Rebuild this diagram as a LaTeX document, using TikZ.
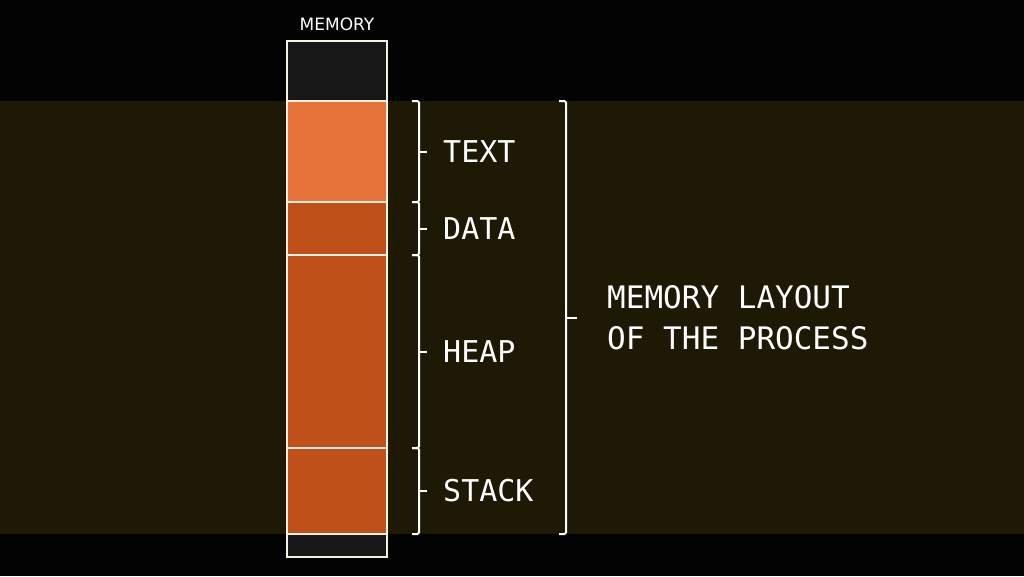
\documentclass[tikz,border=0pt]{standalone}
\usepackage{fontspec}
\usepackage{tikz}
\usetikzlibrary{positioning,calc}
\newfontfamily\monofont{DejaVu Sans Mono}
\newfontfamily\labelfont{DejaVu Sans}
\definecolor{bgblack}{HTML}{030303}
\definecolor{band}{HTML}{1E1904}
\definecolor{memdark}{HTML}{171717}
\definecolor{textseg}{HTML}{E8733A}
\definecolor{restseg}{HTML}{C0501A}
\definecolor{edge}{HTML}{F4F0E4}
\tikzset{x=1pt,y=-1pt,
node distance=0pt,
seg/.style={rectangle,draw=edge,line width=1.2pt,minimum width=100pt,outer sep=0pt,inner sep=0pt},
brk/.style={draw=white,line width=2pt,rounded corners=1.5pt},
lbl/.style={text=white,font=\monofont\fontsize{30}{41}\selectfont,inner sep=0pt,anchor=west},
}
\begin{document}
\begin{tikzpicture}
	\useasboundingbox[fill=bgblack] (0,0) rectangle (1024,576);
	\fill[band] (0,101) rectangle (1024,534);

	\node[seg,fill=memdark,minimum height=60pt] (top) at (337,71) {};
	\node[seg,fill=textseg,minimum height=101pt,below=of top] (text) {};
	\node[seg,fill=restseg,minimum height=53pt,below=of text] (data) {};
	\node[seg,fill=restseg,minimum height=193pt,below=of data] (heap) {};
	\node[seg,fill=restseg,minimum height=86pt,below=of heap] (stack) {};
	\node[seg,fill=memdark,minimum height=23pt,below=of stack] (bottom) {};
	\node[text=white,font=\labelfont\fontsize{17}{20}\selectfont,inner sep=0pt,above=10pt of top] (memlbl) {MEMORY};

	\foreach \a/\t in {text/TEXT,data/DATA,heap/HEAP,stack/STACK}{
		\draw[brk] ($(\a.north east)+(25,0)$) -| ($(\a.south east)+(32,0)$) -- ++(-7,0);
		\draw[brk] ($(\a.east)+(31,0)$) -- ++(9,0) coordinate (\a-tick);
		\node[lbl,right=16pt of \a-tick] (\a-lbl) {\t};
	}

	% bracket round the whole process
	\coordinate (all-top) at ($(text.north east)+(179,0)$);
	\coordinate (all-bot) at ($(stack.south east)+(179,0)$);
	\draw[brk] ($(all-top)+(-7,0)$) -- (all-top) -- (all-bot) -- ++(-7,0);
	\draw[brk] ($(all-top)!0.5!(all-bot)+(-1,0)$) -- ++(12,0) coordinate (all-tick);
	\node[lbl,font=\monofont\fontsize{31}{41}\selectfont,align=left,right=30pt of all-tick] (layout) {MEMORY LAYOUT\\OF THE PROCESS};
\end{tikzpicture}
\end{document}
